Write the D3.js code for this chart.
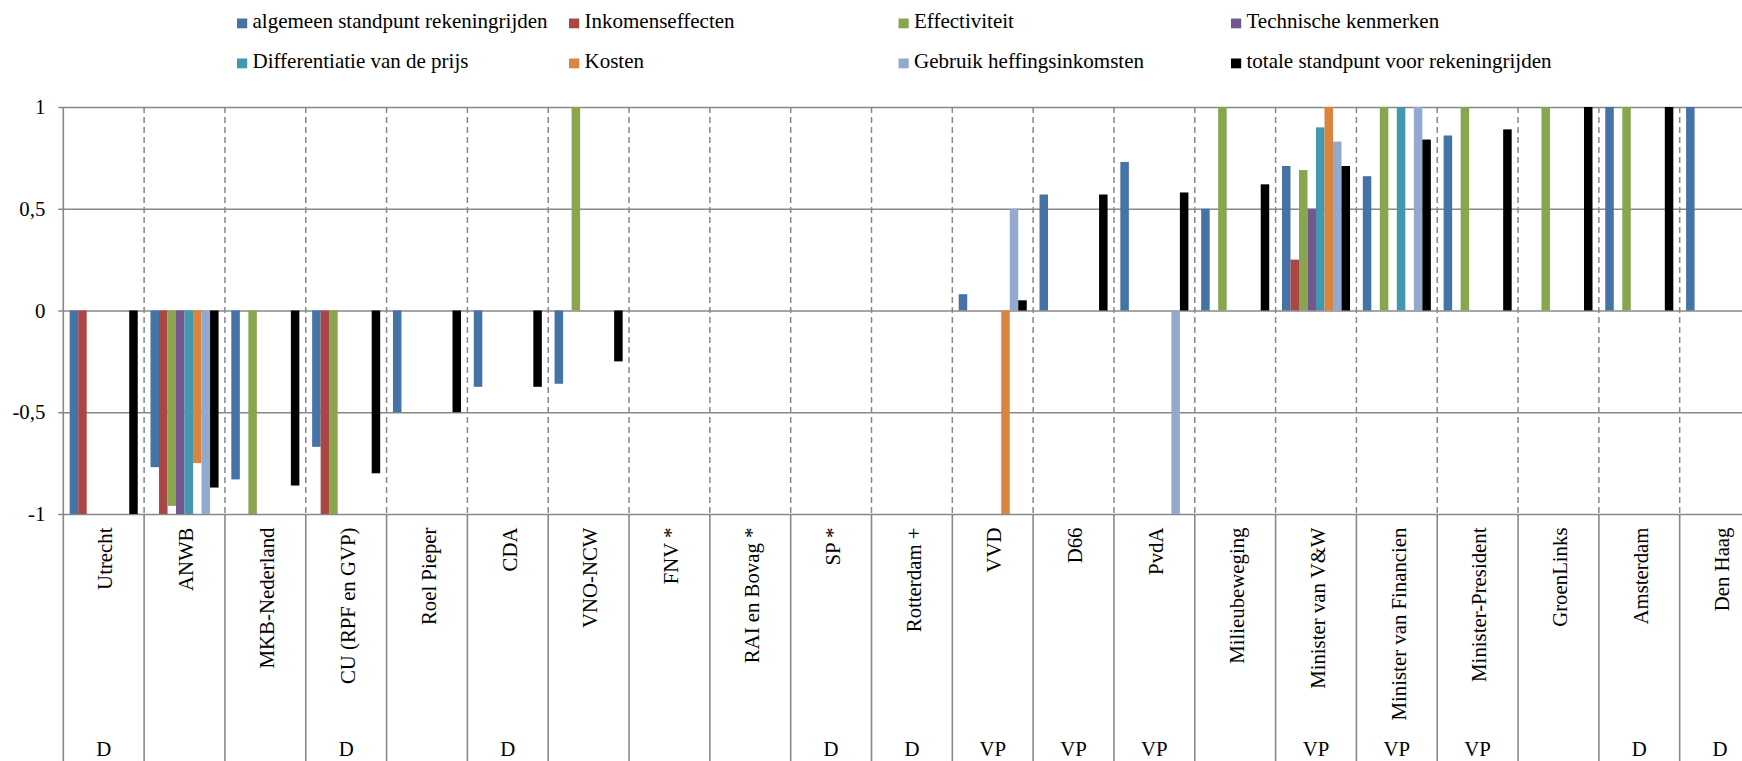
<!DOCTYPE html>
<html>
<head>
<meta charset="utf-8">
<script src="https://cdn.jsdelivr.net/npm/d3@7"></script>
<style>
  html, body { margin: 0; padding: 0; background: #fff; overflow: hidden; }
  svg { display: block; }
</style>
</head>
<body>
<svg id="chart" width="1742" height="761"></svg>
<script>
// Actors / organisations on the category axis
const categories = [
  "Utrecht", "ANWB", "MKB-Nederland", "CU (RPF en GVP)", "Roel Pieper", "CDA",
  "VNO-NCW", "FNV *", "RAI en Bovag *", "SP *", "Rotterdam +", "VVD", "D66",
  "PvdA", "Milieubeweging", "Minister van V&W", "Minister van Financien",
  "Minister-President", "GroenLinks", "Amsterdam", "Den Haag"
];
// Second-level label under each actor
const groupLabels = [
  "D", "", "", "D", "", "D", "", "", "", "D", "D", "VP", "VP", "VP", "",
  "VP", "VP", "VP", "", "D", "D"
];

// One value per actor for every aspect (null = no position)
const algemeen      = [-1, -0.77, -0.83, -0.67, -0.5, -0.375, -0.36, null, null, null, null, 0.08, 0.57, 0.73, 0.5, 0.71, 0.66, 0.86, null, 1, 1];
const inkomens      = [-1, -1, null, -1, null, null, null, null, null, null, null, null, null, null, null, 0.25, null, null, null, null, null];
const effectiviteit = [null, -0.96, -1, -1, null, null, 1, null, null, null, null, null, null, null, 1, 0.69, 1, 1, 1, 1, null];
const technische    = [null, -1, null, null, null, null, null, null, null, null, null, null, null, null, null, 0.5, null, null, null, null, null];
const differentiatie= [null, -1, null, null, null, null, null, null, null, null, null, null, null, null, null, 0.9, 1, null, null, null, null];
const kosten        = [null, -0.75, null, null, null, null, null, null, null, null, null, -1, null, null, null, 1, null, null, null, null, null];
const gebruik       = [null, -1, null, null, null, null, null, null, null, null, null, 0.5, null, -1, null, 0.83, 1, null, null, null, null];
const totale        = [-1, -0.87, -0.86, -0.8, -0.5, -0.375, -0.25, null, null, null, null, 0.05, 0.57, 0.58, 0.62, 0.71, 0.84, 0.89, 1, 1, null];

const seriesNames = [
  "algemeen standpunt rekeningrijden", "Inkomenseffecten", "Effectiviteit",
  "Technische kenmerken", "Differentiatie van de prijs", "Kosten",
  "Gebruik heffingsinkomsten", "totale standpunt voor rekeningrijden"
];
const seriesValues = [algemeen, inkomens, effectiviteit, technische, differentiatie, kosten, gebruik, totale];
const seriesColors = ["#4572A7", "#AA4643", "#89A54E", "#71588F", "#4198AF", "#DB843D", "#93A9CF", "#000000"];

const yTicks = [-1, -0.5, 0, 0.5, 1];

// ---- layout ----
const W = 1742, H = 761;
const FONT = "'Liberation Serif', 'Times New Roman', serif";
const FS = "20.8px";
const plotLeft = 63.3, step = 80.82;
const plotTop = 107, plotBottom = 514;
const labelTop = 527.5, groupBaseline = 755.5;
const gridColor = "#888888";

const svg = d3.select("#chart").attr("font-family", FONT);

const x0 = d3.scaleBand().domain(categories)
  .range([plotLeft, plotLeft + categories.length * step]).padding(0);
const x1 = d3.scaleBand().domain(seriesNames)
  .range([0, step]).paddingInner(0).paddingOuter(0.75);
const y = d3.scaleLinear().domain([-1, 1]).range([plotBottom, plotTop]);

const nl = d3.formatLocale({ decimal: ",", thousands: ".", grouping: [3], currency: ["€", ""], minus: "-" });
const fmt = nl.format("");

// horizontal gridlines + value labels
const yAxis = svg.append("g")
  .attr("transform", `translate(${plotLeft},0)`)
  .call(d3.axisLeft(y).tickValues(yTicks).tickFormat(fmt)
    .tickSize(-(W - plotLeft)).tickPadding(18));
yAxis.attr("font-family", FONT).attr("font-size", FS);
yAxis.select(".domain").remove();
yAxis.selectAll(".tick line")
  .attr("x1", -5)
  .attr("stroke", gridColor).attr("stroke-width", 1.6);
yAxis.selectAll(".tick text")
  .attr("fill", "#000")
  .attr("font-family", FONT).attr("font-size", FS);

// category boundaries: dashed inside the plot, solid through the label area
const bounds = d3.range(categories.length + 1).map(i =>
  i < categories.length ? x0(categories[i]) : x0(categories[i - 1]) + x0.bandwidth());
svg.append("g").selectAll("line")
  .data(bounds.slice(1))
  .join("line")
  .attr("x1", d => d).attr("x2", d => d)
  .attr("y1", plotTop).attr("y2", plotBottom)
  .attr("stroke", gridColor).attr("stroke-width", 1.5)
  .attr("stroke-dasharray", "6,4");
svg.append("g").selectAll("line")
  .data(bounds)
  .join("line")
  .attr("x1", d => d).attr("x2", d => d)
  .attr("y1", d => d === bounds[0] ? plotTop : plotBottom).attr("y2", H)
  .attr("stroke", gridColor).attr("stroke-width", 1.6);

// bars
const barData = [];
seriesValues.forEach((vals, s) => {
  vals.forEach((v, i) => {
    if (v !== null) barData.push({ s, cat: categories[i], v });
  });
});
svg.append("g").selectAll("rect")
  .data(barData)
  .join("rect")
  .attr("x", d => x0(d.cat) + x1(seriesNames[d.s]))
  .attr("width", x1.bandwidth())
  .attr("y", d => Math.min(y(d.v), y(0)))
  .attr("height", d => Math.abs(y(d.v) - y(0)))
  .attr("fill", d => seriesColors[d.s]);

// rotated category labels
svg.append("g").selectAll("text")
  .data(categories)
  .join("text")
  .attr("transform", d => `translate(${x0(d) + x0.bandwidth() / 2},${labelTop}) rotate(-90)`)
  .attr("text-anchor", "end")
  .attr("dy", "0.42em")
  .attr("font-family", FONT)
  .attr("font-size", FS)
  .attr("fill", "#000")
  .text(d => d);

// second-level labels
svg.append("g").selectAll("text")
  .data(categories)
  .join("text")
  .attr("x", d => x0(d) + x0.bandwidth() / 2)
  .attr("y", groupBaseline)
  .attr("text-anchor", "middle")
  .attr("font-family", FONT)
  .attr("font-size", FS)
  .attr("fill", "#000")
  .text((d, i) => groupLabels[i]);

// legend: two rows of four
const legendCols = [237, 569, 898.5, 1231];
const legendRows = [28.3, 68.3];
const legend = svg.append("g").selectAll("g")
  .data(seriesNames)
  .join("g")
  .attr("transform", (d, i) => `translate(${legendCols[i % 4]},${legendRows[Math.floor(i / 4)]})`);
legend.append("rect")
  .attr("x", 0).attr("y", -9.8)
  .attr("width", 10.2).attr("height", 9.8)
  .attr("fill", (d, i) => seriesColors[i]);
legend.append("text")
  .attr("x", 15.5)
  .attr("font-family", FONT)
  .attr("font-size", "21px")
  .attr("fill", "#000")
  .text(d => d);
</script>
</body>
</html>
